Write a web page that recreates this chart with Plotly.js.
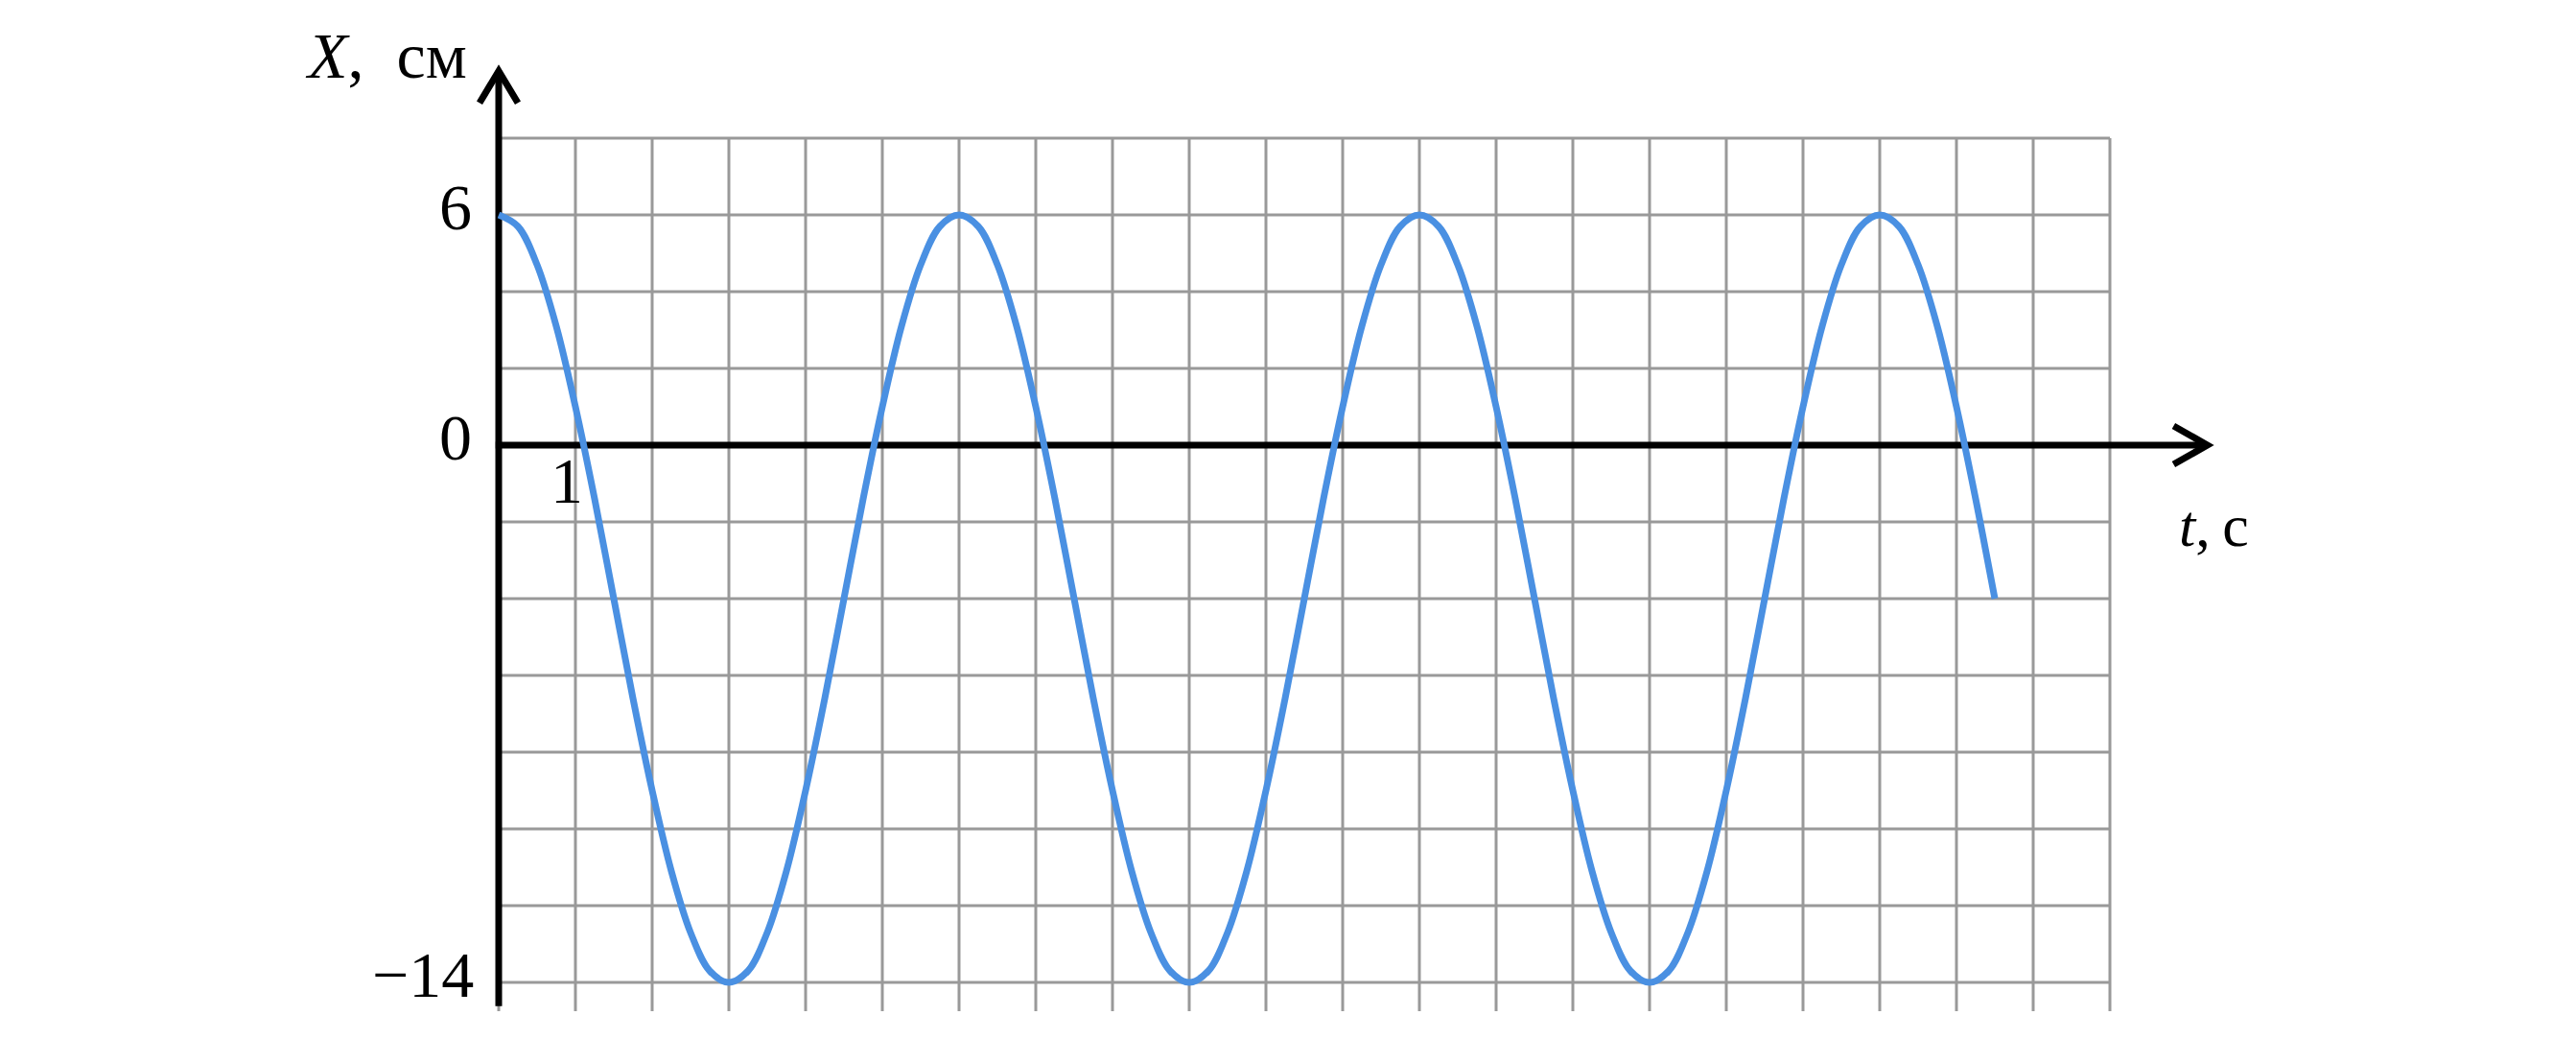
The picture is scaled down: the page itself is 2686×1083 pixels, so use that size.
<!DOCTYPE html>
<html>
<head>
<meta charset="utf-8">
<script src="https://cdn.plot.ly/plotly-3.0.1.min.js"></script>
<style>
  html, body { margin: 0; padding: 0; background: #ffffff; }
  #chart { width: 2686px; height: 1083px; }
</style>
</head>
<body>
<div id="chart"></div>
<script>
// ---- data ----
const timeValues = [
  0, 0.25, 0.5, 0.75, 1, 1.25, 1.5, 1.75, 2, 2.25, 2.5, 2.75,
  3, 3.25, 3.5, 3.75, 4, 4.25, 4.5, 4.75, 5, 5.25, 5.5, 5.75,
  6, 6.25, 6.5, 6.75, 7, 7.25, 7.5, 7.75, 8, 8.25, 8.5, 8.75,
  9, 9.25, 9.5, 9.75, 10, 10.25, 10.5, 10.75, 11, 11.25, 11.5, 11.75,
  12, 12.25, 12.5, 12.75, 13, 13.25, 13.5, 13.75, 14, 14.25, 14.5, 14.75,
  15, 15.25, 15.5, 15.75, 16, 16.25, 16.5, 16.75, 17, 17.25, 17.5, 17.75,
  18, 18.25, 18.5, 18.75, 19, 19.25, 19.5];
const positionValues = [
  6, 5.7, 4.7, 3.1, 1, -1.4, -4, -6.6, -9, -11.1, -12.7, -13.7,
  -14, -13.7, -12.7, -11.1, -9, -6.6, -4, -1.4, 1, 3.1, 4.7, 5.7,
  6, 5.7, 4.7, 3.1, 1, -1.4, -4, -6.6, -9, -11.1, -12.7, -13.7,
  -14, -13.7, -12.7, -11.1, -9, -6.6, -4, -1.4, 1, 3.1, 4.7, 5.7,
  6, 5.7, 4.7, 3.1, 1, -1.4, -4, -6.6, -9, -11.1, -12.7, -13.7,
  -14, -13.7, -12.7, -11.1, -9, -6.6, -4, -1.4, 1, 3.1, 4.7, 5.7,
  6, 5.7, 4.7, 3.1, 1, -1.4, -4];
const timeGrid = [0, 1, 2, 3, 4, 5, 6, 7, 8, 9, 10, 11, 12, 13, 14, 15, 16, 17, 18, 19, 20, 21];
const positionGrid = [-14, -12, -10, -8, -6, -4, -2, 0, 2, 4, 6, 8];
const yTickLabels = [{v: 6, text: "6"}, {v: 0, text: "0"}, {v: -14, text: "\u221214"}];
const xTickLabels = [{v: 1, text: "1"}];
const yAxisTitle = "<i>X</i>,\u00A0\u00A0см";
const xAxisTitle = "<i>t</i>,\u2009с";

// ---- styling ----
const W = 2686, H = 1083;
const X0PX = 520, PX_PER_T = 80;     // horizontal scale
const Y0PX = 464, PX_PER_X = 40;     // vertical scale
const gridColor = "#999999";
const curveColor = "#4a90e2";
const FONT = "Liberation Serif";
const FS = 68;

const xRange = [-X0PX / PX_PER_T, (W - X0PX) / PX_PER_T];
const yRange = [-(H - Y0PX) / PX_PER_X, Y0PX / PX_PER_X];

const gridTop = positionGrid[positionGrid.length - 1];
const gridBottomExt = -14.75;
const tMax = timeGrid[timeGrid.length - 1];

const shapes = [];
timeGrid.forEach(t => shapes.push({
  type: "line", xref: "x", yref: "y", x0: t, x1: t, y0: gridBottomExt, y1: gridTop,
  line: {color: gridColor, width: 3}, layer: "below"
}));
positionGrid.forEach(p => shapes.push({
  type: "line", xref: "x", yref: "y", x0: 0, x1: tMax, y0: p, y1: p,
  line: {color: gridColor, width: 3}, layer: "below"
}));

// axes with open arrowheads
const yAxTop = 9.75, yAxBottom = -14.62;
const xAxRight = 22.27;
shapes.push({type: "line", xref: "x", yref: "y", x0: 0, x1: 0, y0: yAxBottom, y1: yAxTop - 0.05,
  line: {color: "#000", width: 7}, layer: "below"});
shapes.push({type: "path", xref: "x", yref: "y",
  path: `M -0.25,${yAxTop - 0.83} L 0,${yAxTop} L 0.25,${yAxTop - 0.83}`,
  line: {color: "#000", width: 7}, layer: "below"});
shapes.push({type: "line", xref: "x", yref: "y", x0: -0.04, x1: xAxRight - 0.05, y0: 0, y1: 0,
  line: {color: "#000", width: 7}, layer: "below"});
shapes.push({type: "path", xref: "x", yref: "y",
  path: `M ${xAxRight - 0.44},0.5 L ${xAxRight},0 L ${xAxRight - 0.44},-0.5`,
  line: {color: "#000", width: 7}, layer: "below"});

const annotations = [];
yTickLabels.forEach(l => annotations.push({
  x: l.v === -14 ? -0.3 : -0.32, y: l.v, xref: "x", yref: "y", text: l.text, showarrow: false,
  xanchor: "right", yanchor: "middle", yshift: 8,
  font: {family: FONT, size: FS, color: "#000"}
}));
xTickLabels.forEach(l => annotations.push({
  x: l.v - 0.11, y: 0, xref: "x", yref: "y", text: l.text, showarrow: false,
  xanchor: "center", yanchor: "top", yshift: 3,
  font: {family: FONT, size: FS, color: "#000"}
}));
annotations.push({
  x: -2.55, y: 10.15, xref: "x", yref: "y", text: yAxisTitle, showarrow: false,
  xanchor: "left", yanchor: "middle",
  font: {family: FONT, size: FS, color: "#000"}
});
annotations.push({
  x: (2270 - X0PX) / PX_PER_T, y: -2.1, xref: "x", yref: "y", text: xAxisTitle, showarrow: false,
  xanchor: "left", yanchor: "middle",
  font: {family: FONT, size: 62, color: "#000"}
});

const trace = {
  x: timeValues, y: positionValues, type: "scatter", mode: "lines",
  line: {color: curveColor, width: 7, shape: "spline", smoothing: 1},
  hoverinfo: "skip"
};

const layout = {
  width: W, height: H,
  margin: {l: 0, r: 0, t: 0, b: 0, pad: 0},
  paper_bgcolor: "#ffffff", plot_bgcolor: "#ffffff",
  showlegend: false,
  xaxis: {range: xRange, visible: false, fixedrange: true},
  yaxis: {range: yRange, visible: false, fixedrange: true},
  shapes: shapes,
  annotations: annotations
};

Plotly.newPlot("chart", [trace], layout, {displayModeBar: false, staticPlot: true});
</script>
</body>
</html>
